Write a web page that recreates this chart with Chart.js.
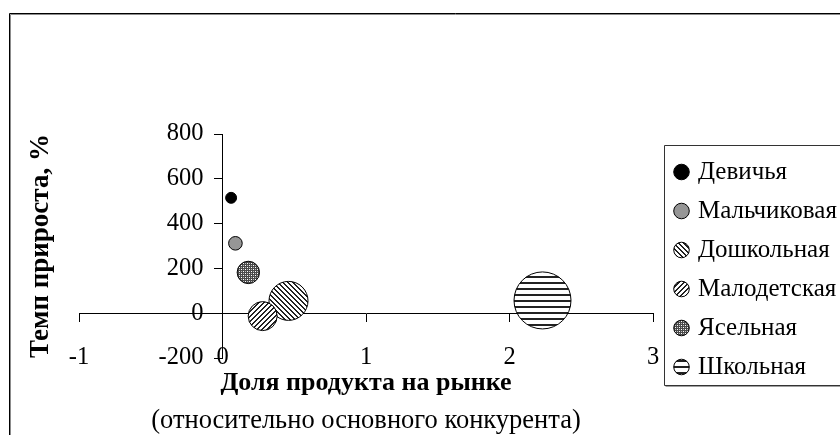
<!DOCTYPE html>
<html>
<head>
<meta charset="utf-8">
<script src="https://cdn.jsdelivr.net/npm/chart.js@4.4.1/dist/chart.umd.min.js"></script>
<style>
  html, body { margin: 0; padding: 0; background: #ffffff; overflow: hidden; width: 840px; height: 435px; }
  canvas { display: block; }
</style>
</head>
<body>
<canvas id="chart" width="900" height="460" style="width:900px;height:460px"></canvas>
<script>
// ---- data ----
const categories  = ['Девичья', 'Мальчиковая', 'Дошкольная', 'Малодетская', 'Ясельная', 'Школьная'];
const marketShare = [0.06, 0.09, 0.46, 0.28, 0.18, 2.23];     // доля продукта на рынке
const growthRate  = [515, 312, 55, -13, 182, 57];              // темп прироста, %
const salesVolume = [3.7, 5.7, 46.8, 25.9, 15.4, 100];         // relative bubble size (area)
const xTickValues = [-1, 0, 1, 2, 3];
const yTickValues = [-200, 0, 200, 400, 600, 800];
const xTitleText    = 'Доля продукта на рынке';
const xSubtitleText = '(относительно основного конкурента)';
const yTitleText    = 'Темп прироста, %';

// ---- styles ----
const FONT = "'Liberation Serif', 'Times New Roman', serif";
Chart.defaults.font.family = FONT;
Chart.defaults.color = '#000000';
const TICK_FONT = 24.5;

const canvas = document.getElementById('chart');
const mainCtx = canvas.getContext('2d');

function makePattern(w, h, bg, fn) {
  const c = document.createElement('canvas');
  c.width = w; c.height = h;
  const g = c.getContext('2d');
  g.fillStyle = bg; g.fillRect(0, 0, w, h);
  for (let y = 0; y < h; y++) {
    for (let x = 0; x < w; x++) {
      const col = fn(x, y);
      if (col) { g.fillStyle = col; g.fillRect(x, y, 1, 1); }
    }
  }
  return mainCtx.createPattern(c, 'repeat');
}
const patBack  = makePattern(5, 5, '#ffffff', (x, y) => ((x - y + 10) % 5) < 2 ? '#222222' : null);
const patFwd   = makePattern(5, 5, '#ffffff', (x, y) => ((x + y) % 5) < 2 ? '#222222' : null);
const patDots  = makePattern(4, 4, '#4a4a4a', (x, y) => (x === 1 && y === 1) || (x === 3 && y === 3) ? '#ffffff' : ((x === 1 && y === 3) || (x === 3 && y === 1) ? '#bdbdbd' : null));
const patHoriz = makePattern(6, 6, '#ffffff', (x, y) => y < 2 ? '#222222' : null);

const fills     = ['#000000', '#969696', patBack, patFwd, patDots, patHoriz];
const drawOrder = [0, 0, 0, -1, 0, 0];
const MAX_R = 28.5;
const maxVol = Math.max(...salesVolume);

const datasets = categories.map((name, i) => ({
  label: name,
  data: [{ x: marketShare[i], y: growthRate[i], r: MAX_R * Math.sqrt(salesVolume[i] / maxVol) }],
  backgroundColor: fills[i],
  borderColor: '#000000',
  borderWidth: 1,
  order: drawOrder[i],
  xAxisID: 'x',
  yAxisID: 'y'
}));

// y tick labels (drawn from the y scale's own ticks, left of the axis that crosses at x = 0)
const yLabelPlugin = {
  id: 'yLabels',
  afterDraw(chart) {
    const ctx = chart.ctx;
    const xs = chart.scales.x, ys = chart.scales.y;
    const axisX = xs.getPixelForValue(0);
    ctx.save();
    ctx.font = TICK_FONT + 'px ' + FONT;
    ctx.fillStyle = '#000000';
    ctx.textAlign = 'right';
    ctx.textBaseline = 'middle';
    ys.ticks.forEach(t => {
      const label = (t.label !== undefined && t.label !== null) ? t.label : String(t.value);
      ctx.fillText(label, axisX - 19, ys.getPixelForValue(t.value));
    });
    ctx.restore();
  }
};

const framePlugin = {
  id: 'frame',
  afterDraw(chart) {
    const ctx = chart.ctx;
    const lg = chart.legend;
    ctx.save();
    ctx.lineWidth = 1;
    // outer chart border (top and left visible)
    ctx.strokeStyle = '#000000';
    ctx.beginPath(); ctx.moveTo(9.5, 470); ctx.lineTo(9.5, 13.5); ctx.lineTo(910, 13.5); ctx.stroke();
    ctx.strokeStyle = '#8c8c8c';
    ctx.beginPath(); ctx.moveTo(10.5, 470); ctx.lineTo(10.5, 14.5); ctx.lineTo(910, 14.5); ctx.stroke();
    // legend box
    const L = Math.floor(lg.left + 0.5) + 0.5;
    const T = Math.round(lg.top) + 11.5;
    const B = Math.round(lg.top) + 251.5;
    ctx.strokeStyle = '#333333';
    ctx.beginPath(); ctx.moveTo(910, T); ctx.lineTo(L, T); ctx.lineTo(L, B); ctx.lineTo(910, B); ctx.stroke();
    ctx.strokeStyle = '#a0a0a0';
    ctx.beginPath(); ctx.moveTo(L + 1, B + 1); ctx.lineTo(910, B + 1); ctx.stroke();
    ctx.restore();
  }
};

const chart = new Chart(canvas, {
  type: 'bubble',
  data: { datasets },
  options: {
    responsive: false,
    animation: false,
    events: [],
    layout: { padding: { top: 134, left: 0, right: 52, bottom: 23.1 } },
    scales: {
      x: {
        type: 'linear',
        position: 'bottom',
        min: xTickValues[0],
        max: xTickValues[xTickValues.length - 1],
        ticks: { stepSize: 1, color: '#000', font: { size: TICK_FONT }, mirror: true, padding: -TICK_FONT * 0.6, maxRotation: 0, autoSkip: false },
        grid: { display: false, drawTicks: false },
        border: { display: false },
        title: { display: true, text: xTitleText, color: '#000', font: { size: 26, weight: 'bold' }, padding: { top: 0, bottom: 0 } },
        afterFit(s) { s.height = 40.6; }
      },
      y: {
        type: 'linear',
        axis: 'y',
        position: { x: 0 },
        min: yTickValues[0],
        max: yTickValues[yTickValues.length - 1],
        ticks: { stepSize: 200, display: false },
        grid: { drawOnChartArea: false, drawTicks: true, tickLength: 8, color: '#000', lineWidth: 1 },
        border: { display: true, color: '#000', width: 1 }
      },
      xZero: {
        type: 'linear',
        axis: 'x',
        position: { y: 0 },
        min: xTickValues[0],
        max: xTickValues[xTickValues.length - 1],
        ticks: { display: false, stepSize: 1 },
        grid: { drawOnChartArea: false, drawTicks: true, tickLength: 8, color: '#000', lineWidth: 1 },
        border: { display: true, color: '#000', width: 1 }
      },
      yTitle: {
        type: 'linear',
        axis: 'y',
        position: 'left',
        ticks: { display: false },
        grid: { display: false, drawTicks: false },
        border: { display: false },
        title: { display: true, text: yTitleText, color: '#000', font: { size: 27, weight: 'bold' }, padding: { top: 24.8, bottom: 0 } },
        afterFit(s) { s.width = 79; }
      },
      ySpacer: {
        type: 'linear',
        axis: 'y',
        position: 'right',
        ticks: { display: false },
        grid: { display: false, drawTicks: false },
        border: { display: false },
        afterFit(s) { s.width = 10.5; }
      }
    },
    plugins: {
      title: { display: false },
      subtitle: {
        display: true,
        position: 'bottom',
        fullSize: false,
        text: xSubtitleText,
        color: '#000',
        font: { size: 26.5, weight: 'normal' },
        padding: { top: 6.5, bottom: 0 }
      },
      legend: {
        display: true,
        position: 'right',
        align: 'start',
        fullSize: true,
        maxWidth: 400,
        title: { display: true, text: '', padding: { top: 10.5, bottom: 0 }, font: { size: 1, lineHeight: 1 } },
        labels: {
          usePointStyle: true,
          boxWidth: 8,
          boxHeight: 11,
          padding: 14,
          color: '#000',
          font: { size: 25 },
          sort: (a, b) => a.datasetIndex - b.datasetIndex
        }
      },
      tooltip: { enabled: false }
    }
  },
  plugins: [yLabelPlugin, framePlugin]
});

// pin the legend so that the plot area ends at the reference position
const LEGEND_LEFT = 663.5;
const dx = chart.legend.left - LEGEND_LEFT;
if (Math.abs(dx) > 0.01) {
  const p = chart.options.layout.padding;
  chart.options.layout.padding = { top: p.top, left: p.left, right: p.right + dx, bottom: p.bottom };
  chart.update();
}
</script>
</body>
</html>
